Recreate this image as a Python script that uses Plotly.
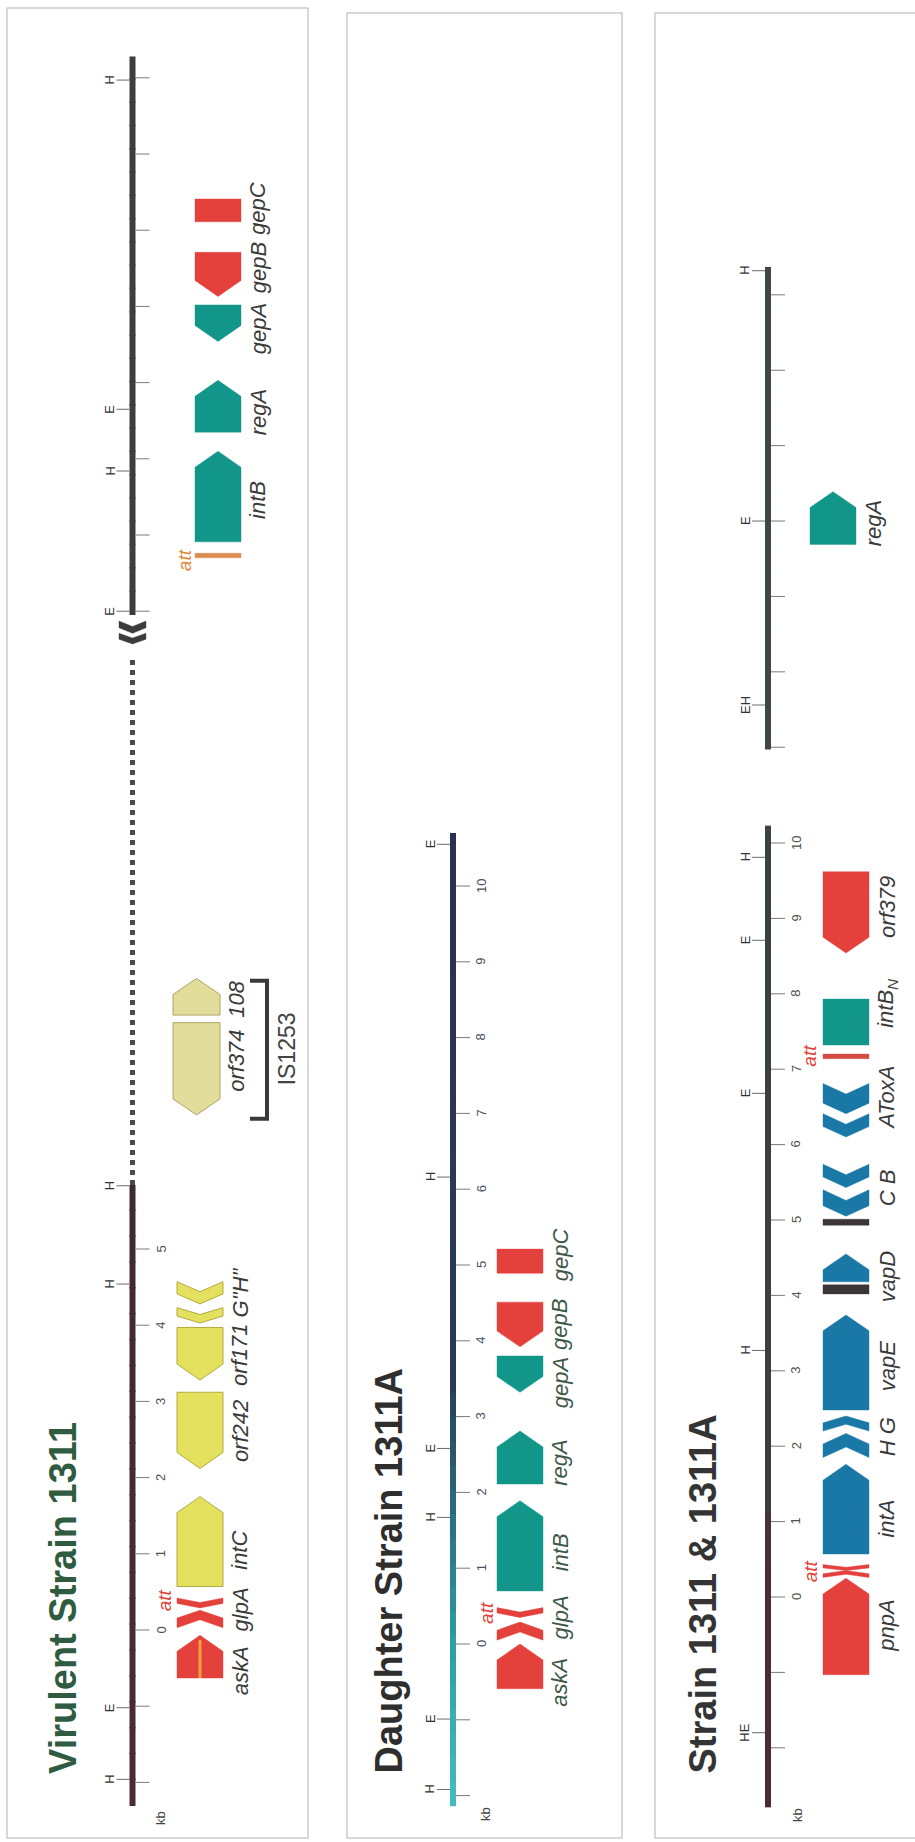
import plotly.graph_objects as go

W, H = 915, 1842

# ===================== DATA (positions in kb along each map) =====================
# ---- Panel 1: Virulent Strain 1311, lower segment (true kb) ----
P1_SEGMENT = [-2.31, 5.84]
P1_TICKS = [-2, -1, 0, 1, 2, 3, 4, 5]
P1_TICK_TEXT = ["", "", "0", "1", "2", "3", "4", "5"]
P1_SITES = ["H", "E", "H", "H"]
P1_SITE_KB = [-1.96, -1.02, 4.54, 5.83]
P1_GENE_START = [-0.63, 0.03, 0.29, 0.57, 2.12, 3.28, 4.03, 4.28]
P1_GENE_END = [-0.07, 0.26, 0.42, 1.75, 3.12, 3.97, 4.23, 4.57]
P1_GENE_STRAND = [1, 1, -1, 1, -1, -1, -1, -1]
P1_GENE_KIND = ["arrow", "chevron", "chevron", "arrow", "arrow", "arrow", "chevron", "chevron"]
P1_GENE_CLASS = ["red", "red", "red", "yellow", "yellow", "yellow", "yellow", "yellow"]
P1_LABELS = ["askA", "glpA", "intC", "orf242", "orf171", "G\"H\""]
P1_LABEL_KB = [-0.54, 0.27, 1.04, 2.61, 3.61, 4.43]
P1_ATT_KB = 0.39
# collapsed region carrying IS1253
P1_GAP = [5.84, 12.77]
P1_BREAK_KB = [12.94, 13.08, 13.24]
P1_IS_START = [6.76, 8.07]
P1_IS_END = [7.97, 8.55]
P1_IS_STRAND = [-1, 1]
P1_IS_LABELS = ["orf374", "108"]
P1_IS_LABEL_KB = [7.47, 8.27]
P1_IS_SPAN = [6.71, 8.52]
P1_IS_NAME = "IS1253"
P1_IS_NAME_KB = 7.62
# upper segment (local kb, placed after an offset)
P1U_OFFSET = 13.37
P1U_SEGMENT = [-0.05, 7.28]
P1U_TICKS = [0, 1, 2, 3, 4, 5, 6, 7]
P1U_TICK_TEXT = ["", "", "", "", "", "", "", ""]
P1U_SITES = ["E", "H", "E", "H"]
P1U_SITE_KB = [0.0, 1.84, 2.65, 6.97]
P1U_GENE_START = [0.70, 0.91, 2.35, 3.54, 4.13, 5.11]
P1U_GENE_END = [0.76, 2.10, 3.03, 4.02, 4.71, 5.41]
P1U_GENE_STRAND = [0, 1, 1, -1, -1, 0]
P1U_GENE_KIND = ["rect", "arrow", "arrow", "arrow", "arrow", "rect"]
P1U_GENE_CLASS = ["att_orange", "teal", "teal", "teal", "red", "red"]
P1U_LABELS = ["intB", "regA", "gepA", "gepB", "gepC"]
P1U_LABEL_KB = [1.46, 2.61, 3.70, 4.50, 5.28]
P1U_ATT_KB = 0.67

# ---- Panel 2: Daughter Strain 1311A ----
P2_SEGMENT = [-2.14, 10.70]
P2_TICKS = [-2, -1, 0, 1, 2, 3, 4, 5, 6, 7, 8, 9, 10]
P2_TICK_TEXT = ["", "", "0", "1", "2", "3", "4", "5", "6", "7", "8", "9", "10"]
P2_SITES = ["H", "E", "H", "E", "H", "E"]
P2_SITE_KB = [-1.92, -0.99, 1.67, 2.58, 6.16, 10.55]
P2_GENE_START = [-0.59, 0.05, 0.35, 0.70, 2.11, 3.32, 3.92, 4.89]
P2_GENE_END = [0.00, 0.29, 0.48, 1.89, 2.81, 3.80, 4.51, 5.21]
P2_GENE_STRAND = [1, 1, -1, 1, 1, -1, -1, 0]
P2_GENE_KIND = ["arrow", "chevron", "chevron", "arrow", "arrow", "arrow", "arrow", "rect"]
P2_GENE_CLASS = ["red", "red", "red", "teal", "teal", "teal", "red", "red"]
P2_LABELS = ["askA", "glpA", "intB", "regA", "gepA", "gepB", "gepC"]
P2_LABEL_KB = [-0.51, 0.35, 1.21, 2.39, 3.44, 4.21, 5.13]
P2_ATT_KB = 0.41

# ---- Panel 3: Strain 1311 & 1311A ----
P3_SEGMENT = [-2.79, 10.23]
P3_TICKS = [-2, -1, 0, 1, 2, 3, 4, 5, 6, 7, 8, 9, 10]
P3_TICK_TEXT = ["", "", "0", "1", "2", "3", "4", "5", "6", "7", "8", "9", "10"]
P3_SITES = ["HE", "H", "E", "E", "H"]
P3_SITE_KB = [-1.80, 3.27, 6.68, 8.71, 9.81]
P3_GENE_START = [-1.03, 0.26, 0.35, 0.57, 1.85, 2.20, 2.48, 4.02, 4.18, 4.93,
                 5.05, 5.43, 6.10, 6.41, 7.14, 7.32, 8.54]
P3_GENE_END = [0.25, 0.35, 0.43, 1.76, 2.17, 2.40, 3.74, 4.14, 4.55, 5.01,
               5.40, 5.74, 6.41, 6.81, 7.20, 7.93, 9.62]
P3_GENE_STRAND = [1, 1, -1, 1, 1, 1, 1, 0, 1, 0, -1, -1, -1, -1, 0, 0, -1]
P3_GENE_KIND = ["arrow", "chevron", "chevron", "arrow", "chevron", "chevron", "arrow", "rect",
                "arrow", "rect", "chevron", "chevron", "chevron", "chevron", "rect", "rect", "arrow"]
P3_GENE_CLASS = ["red", "red", "red", "blue", "blue", "blue", "blue", "dark", "blue", "dark",
                 "blue", "blue", "blue", "blue", "att_red", "teal", "red"]
P3_LABELS = ["pnpA", "intA", "H G", "vapE", "vapD", "C B", "AToxA", "intB<sub>N</sub>", "orf379"]
P3_LABEL_KB = [-0.38, 1.04, 2.12, 3.06, 4.24, 5.42, 6.62, 7.88, 9.15]
P3_ATT_KB = [0.34, 7.18]
# separate fragment (local kb, placed after an offset)
P3U_OFFSET = 11.27
P3U_SEGMENT = [-0.03, 6.37]
P3U_TICKS = [0, 1, 2, 3, 4, 5, 6]
P3U_TICK_TEXT = ["", "", "", "", "", "", ""]
P3U_SITES = ["EH", "E", "H"]
P3U_SITE_KB = [0.56, 3.00, 6.32]
P3U_GENE_START = [2.69]
P3U_GENE_END = [3.39]
P3U_GENE_STRAND = [1]
P3U_GENE_KIND = ["arrow"]
P3U_GENE_CLASS = ["teal"]
P3U_LABELS = ["regA"]
P3U_LABEL_KB = [2.97]

TITLES = ["Virulent Strain 1311", "Daughter Strain 1311A", "Strain 1311 & 1311A"]

# ===================== STYLE / LAYOUT =====================
FONT = "Liberation Sans, Arial, Helvetica, sans-serif"
FILL = {"red": "#e4403c", "teal": "#12968a", "blue": "#1a78a6", "yellow": "#e4e15e",
        "pale": "#e2dd9a", "dark": "#3b3536", "att_orange": "#dd8a4e", "att_red": "#d64a48",
        "break": "#3c3c3c"}
OUTLINE = {"yellow": "#b3ab3e", "pale": "#aea464"}
# pixel anchor of kb 0 and pixels per kb for each panel axis
PANEL = {1: dict(axis="y", p0=1630.0, ppk=76.2, bx=132.5),
         2: dict(axis="y2", p0=1644.0, ppk=75.8, bx=453.0),
         3: dict(axis="y3", p0=1597.0, ppk=75.4, bx=768.0)}
BORDERS = [(7, 308, 8, 1838), (347, 622, 13, 1838), (655, 940, 13, 1838)]
TITLE_X = [63, 388, 702]
TITLE_COLOR = ["#2f5c40", "#2e2e2e", "#343434"]
TITLE_BOTTOM = 1776
TITLE_SIZE = 38
LABEL_SIZE = 22
KB_LABEL_POS = [(160, 1818), (485, 1814), (797, 1815)]

fig = go.Figure()
annotations = []
shapes = []


def ax(panel):
    return PANEL[panel]["axis"]


def add_poly(panel, xs, ys, cls):
    fill = FILL[cls]
    outline = OUTLINE.get(cls, fill)
    fig.add_trace(go.Scatter(x=xs, y=ys, mode="lines", fill="toself", fillcolor=fill,
                             line=dict(color=outline, width=1.0 if cls in OUTLINE else 0.4),
                             xaxis="x", yaxis=ax(panel), hoverinfo="skip", showlegend=False))


def add_line(panel, xs, ys, color, width, dash=None):
    fig.add_trace(go.Scatter(x=xs, y=ys, mode="lines",
                             line=dict(color=color, width=width, dash=dash),
                             xaxis="x", yaxis=ax(panel), hoverinfo="skip", showlegend=False))


def add_text(panel, x, kb, text, size, color, italic=False, bold=False, yanchor="middle"):
    annotations.append(dict(x=x, y=kb, xref="x", yref=ax(panel), text=text, showarrow=False,
                            textangle=-90, xanchor="center", yanchor=yanchor,
                            font=dict(family=FONT, size=size, color=color,
                                      style="italic" if italic else "normal",
                                      weight="bold" if bold else "normal")))


def gene_poly(lo, hi, strand, kind, xl, xr, head=0.21):
    xc = (xl + xr) / 2.0
    L = hi - lo
    if kind == "rect" or strand == 0:
        return [xl, xr, xr, xl, xl], [lo, lo, hi, hi, lo]
    if kind == "arrow":
        h = min(head, 0.6 * L)
        if strand > 0:
            return [xl, xr, xr, xc, xl, xl], [lo, lo, hi - h, hi, hi - h, lo]
        return [xl, xr, xr, xc, xl, xl], [hi, hi, lo + h, lo, lo + h, hi]
    h = min(0.14, 0.45 * L)
    if strand > 0:
        return [xl, xc, xr, xr, xc, xl, xl], [lo, lo + h, lo, hi - h, hi, hi - h, lo]
    return [xl, xc, xr, xr, xc, xl, xl], [hi, hi - h, hi, lo + h, lo, lo + h, hi]


def hex_rgb(c):
    c = c.lstrip("#")
    return [int(c[i:i + 2], 16) for i in (0, 2, 4)]


def interp(stops, v):
    if v <= stops[0][0]:
        return stops[0][1]
    for (a, ca), (b, cb) in zip(stops[:-1], stops[1:]):
        if a <= v <= b:
            t = (v - a) / (b - a) if b > a else 0
            A, B = hex_rgb(ca), hex_rgb(cb)
            return "rgb(%d,%d,%d)" % tuple(round(A[i] + (B[i] - A[i]) * t) for i in range(3))
    return stops[-1][1]


def draw_backbone(panel, lo, hi, stops, width=6, n=24):
    bx = PANEL[panel]["bx"]
    for i in range(n):
        a = lo + (hi - lo) * i / n
        b = lo + (hi - lo) * (i + 1) / n + (0.02 if i < n - 1 else 0)
        add_line(panel, [bx, bx], [a, b], interp(stops, (a + b) / 2), width)


def draw_scale(panel, offset, ticks, tick_text, sites, site_kb, num_color):
    bx = PANEL[panel]["bx"]
    for t, lab in zip(ticks, tick_text):
        add_line(panel, [bx + 3, bx + 17], [offset + t, offset + t], "#7a7a7a", 1)
        if lab:
            add_text(panel, bx + 28, offset + t, lab, 13, num_color)
    for s, k in zip(sites, site_kb):
        add_line(panel, [bx - 16, bx - 3], [offset + k, offset + k], "#6a6a6a", 1)
        add_text(panel, bx - 23, offset + k, s, 13, "#333333")


def draw_genes(panel, offset, starts, ends, strands, kinds, classes, xl, xr):
    for lo, hi, s, k, c in zip(starts, ends, strands, kinds, classes):
        xs, ys = gene_poly(offset + lo, offset + hi, s, k, xl, xr)
        add_poly(panel, xs, ys, c)


def draw_labels(panel, offset, labels, kbs, x, color):
    for lab, k in zip(labels, kbs):
        add_text(panel, x, offset + k, lab, LABEL_SIZE, color, italic=True)


# ---------------- Panel 1 ----------------
draw_backbone(1, P1_SEGMENT[0], P1_SEGMENT[1], [(-2.31, "#4b2b34"), (5.84, "#3f2a31")])
add_line(1, [PANEL[1]["bx"]] * 2, P1_GAP, "#4a4a4a", 5, dash="5px,5px")
draw_backbone(1, P1U_OFFSET + P1U_SEGMENT[0], P1U_OFFSET + P1U_SEGMENT[1],
              [(0, "#3e3e3e"), (30, "#3e3e3e")])
for lo, hi in zip(P1_BREAK_KB[:-1], P1_BREAK_KB[1:]):
    xs, ys = gene_poly(lo, hi, -1, "chevron", 119, 146)
    add_poly(1, xs, ys, "break")
draw_scale(1, 0, P1_TICKS, P1_TICK_TEXT, P1_SITES, P1_SITE_KB, "#505050")
draw_scale(1, P1U_OFFSET, P1U_TICKS, P1U_TICK_TEXT, P1U_SITES, P1U_SITE_KB, "#505050")
draw_genes(1, 0, P1_GENE_START, P1_GENE_END, P1_GENE_STRAND, P1_GENE_KIND, P1_GENE_CLASS, 177, 223)
# orange core stripe of askA
add_line(1, [200, 200], [P1_GENE_START[0], P1_GENE_END[0] - 0.06], "#f2a13a", 3)
draw_labels(1, 0, P1_LABELS, P1_LABEL_KB, 240, "#3a3a3a")
add_text(1, 164, P1_ATT_KB, "att", 19, "#e5413a", italic=True)
draw_genes(1, 0, P1_IS_START, P1_IS_END, P1_IS_STRAND, ["arrow", "arrow"], ["pale", "pale"], 173, 220)
draw_labels(1, 0, P1_IS_LABELS, P1_IS_LABEL_KB, 237, "#3a3a3a")
add_line(1, [250, 267, 267, 250], [P1_IS_SPAN[1], P1_IS_SPAN[1], P1_IS_SPAN[0], P1_IS_SPAN[0]],
         "#3a3a3a", 4)
add_text(1, 287, P1_IS_NAME_KB, P1_IS_NAME, 23, "#444444")
draw_genes(1, P1U_OFFSET, P1U_GENE_START, P1U_GENE_END, P1U_GENE_STRAND, P1U_GENE_KIND,
           P1U_GENE_CLASS, 195, 241)
draw_labels(1, P1U_OFFSET, P1U_LABELS, P1U_LABEL_KB, 258, "#3a3a3a")
add_text(1, 184, P1U_OFFSET + P1U_ATT_KB, "att", 19, "#e0893c", italic=True)

# ---------------- Panel 2 ----------------
draw_backbone(2, P2_SEGMENT[0], P2_SEGMENT[1],
              [(-2.14, "#45bdbd"), (0.0, "#2e9ea4"), (2.0, "#2a6678"), (3.5, "#2a3b58"),
               (10.7, "#2b3150")], n=40)
draw_scale(2, 0, P2_TICKS, P2_TICK_TEXT, P2_SITES, P2_SITE_KB, "#4a4e60")
draw_genes(2, 0, P2_GENE_START, P2_GENE_END, P2_GENE_STRAND, P2_GENE_KIND, P2_GENE_CLASS, 497, 543)
draw_labels(2, 0, P2_LABELS, P2_LABEL_KB, 560, "#3d5847")
add_text(2, 487, P2_ATT_KB, "att", 19, "#e5413a", italic=True)

# ---------------- Panel 3 ----------------
draw_backbone(3, P3_SEGMENT[0], P3_SEGMENT[1],
              [(-2.79, "#4e2838"), (0.4, "#4d2b38"), (1.6, "#3b4139"), (10.23, "#384538")], n=40)
draw_backbone(3, P3U_OFFSET + P3U_SEGMENT[0], P3U_OFFSET + P3U_SEGMENT[1],
              [(0, "#3e4a40"), (30, "#3e4a40")])
draw_scale(3, 0, P3_TICKS, P3_TICK_TEXT, P3_SITES, P3_SITE_KB, "#505050")
draw_scale(3, P3U_OFFSET, P3U_TICKS, P3U_TICK_TEXT, P3U_SITES, P3U_SITE_KB, "#505050")
draw_genes(3, 0, P3_GENE_START, P3_GENE_END, P3_GENE_STRAND, P3_GENE_KIND, P3_GENE_CLASS, 823, 869)
draw_labels(3, 0, P3_LABELS, P3_LABEL_KB, 887, "#3a3a3a")
for k in P3_ATT_KB:
    add_text(3, 810, k, "att", 19, "#e5413a", italic=True)
draw_genes(3, P3U_OFFSET, P3U_GENE_START, P3U_GENE_END, P3U_GENE_STRAND, P3U_GENE_KIND,
           P3U_GENE_CLASS, 810, 856)
draw_labels(3, P3U_OFFSET, P3U_LABELS, P3U_LABEL_KB, 873, "#3a3a3a")

# ---------------- titles, kb labels, borders ----------------
for i, (title, tx, tc) in enumerate(zip(TITLES, TITLE_X, TITLE_COLOR)):
    annotations.append(dict(x=tx, y=1 - TITLE_BOTTOM / H, xref="x", yref="paper", text=title,
                            showarrow=False, textangle=-90, xanchor="center", yanchor="bottom",
                            font=dict(family=FONT, size=TITLE_SIZE, color=tc, weight="bold")))
    kx, ky = KB_LABEL_POS[i]
    annotations.append(dict(x=kx, y=1 - ky / H, xref="x", yref="paper", text="kb",
                            showarrow=False, textangle=-90, xanchor="center", yanchor="middle",
                            font=dict(family=FONT, size=13, color="#444444")))
for x0, x1, top, bot in BORDERS:
    shapes.append(dict(type="rect", xref="x", yref="paper", x0=x0, x1=x1,
                       y0=1 - bot / H, y1=1 - top / H, line=dict(color="#cbcbcb", width=1.5),
                       fillcolor="rgba(0,0,0,0)", layer="below"))


def yr(panel):
    p = PANEL[panel]
    return [(p["p0"] - H) / p["ppk"], p["p0"] / p["ppk"]]


hidden = dict(visible=False, showgrid=False, zeroline=False, fixedrange=True)
fig.update_layout(
    width=W, height=H, margin=dict(l=0, r=0, t=0, b=0),
    paper_bgcolor="white", plot_bgcolor="white",
    xaxis=dict(range=[0, W], domain=[0, 1], **hidden),
    yaxis=dict(range=yr(1), domain=[0, 1], anchor="x", **hidden),
    yaxis2=dict(range=yr(2), overlaying="y", anchor="x", **hidden),
    yaxis3=dict(range=yr(3), overlaying="y", anchor="x", **hidden),
    annotations=annotations, shapes=shapes, showlegend=False,
)

fig.write_html("out.html", config={"displayModeBar": False})
